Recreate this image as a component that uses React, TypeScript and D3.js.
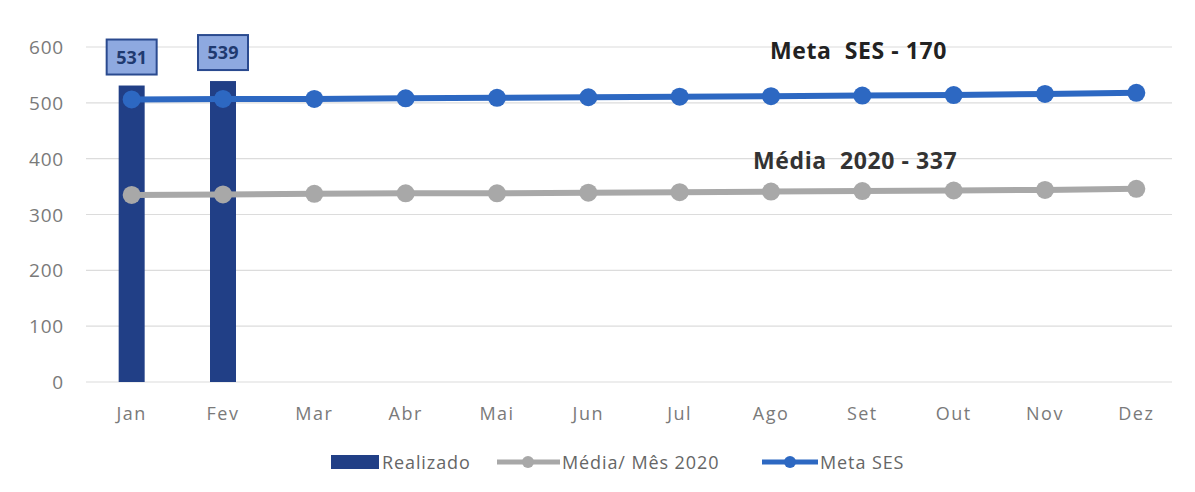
import React from "react";
import * as d3 from "d3";

const months = ["Jan","Fev","Mar","Abr","Mai","Jun","Jul","Ago","Set","Out","Nov","Dez"];
const realizado: (number|null)[] = [531, 539, null, null, null, null, null, null, null, null, null, null];
const mediaMes2020 = [335, 336, 337, 338, 338, 339, 340, 341, 342, 343, 344, 346];
const metaSES = [506, 507, 507, 508, 509, 510, 511, 512, 513, 514, 516, 518];
const yTicks = [0, 100, 200, 300, 400, 500, 600];

const W = 1195, H = 492;
const left = 86, right = 1182, top = 47, bottom = 382;

export default function App() {
  const x = d3.scaleBand<string>().domain(months).range([left, right]);
  const y = d3.scaleLinear().domain([0, 600]).range([bottom, top]);
  const cx = (m: string) => (x(m) as number) + x.bandwidth() / 2;
  const line = d3.line<number>().x((_, i) => cx(months[i])).y(d => y(d));
  const barW = 26;
  const font = "'Open Sans', Lato, sans-serif";
  const navy = "#213f86";
  const blue = "#2d68c2";
  const grey = "#a8a8a8";
  return (
    <svg width={W} height={H} style={{ position: "absolute", left: 0, top: 0, background: "#fff" }} fontFamily={font}>
      <rect x={0} y={0} width={W} height={H} fill="#fff" />
      {yTicks.map(t => (
        <g key={t}>
          <line x1={left} x2={1172} y1={y(t)} y2={y(t)} stroke="#dcdcdc" strokeWidth={1.2} />
          <text x={64} y={y(t) + 7} textAnchor="end" fontSize={19} letterSpacing={0.8} fill="#7a7a7a">{t}</text>
        </g>
      ))}
      {months.map(m => (
        <text key={m} x={cx(m)} y={420} textAnchor="middle" fontSize={18} letterSpacing={1.5} fill="#7a7a7a">{m}</text>
      ))}
      {realizado.map((v, i) => v == null ? null : (
        <rect key={i} x={cx(months[i]) - barW / 2} y={y(v)} width={barW} height={bottom - y(v)} fill={navy} />
      ))}
      <path d={line(mediaMes2020) || ""} fill="none" stroke={grey} strokeWidth={6} />
      {mediaMes2020.map((v, i) => <circle key={i} cx={cx(months[i])} cy={y(v)} r={9} fill={grey} />)}
      <path d={line(metaSES) || ""} fill="none" stroke={blue} strokeWidth={6} />
      {metaSES.map((v, i) => <circle key={i} cx={cx(months[i])} cy={y(v)} r={9} fill={blue} />)}
      {realizado.map((v, i) => v == null ? null : (
        <g key={"l" + i}>
          <rect x={cx(months[i]) - 25} y={y(v) - 46} width={50} height={35} fill="#8ea9e0" stroke="#2a4a8f" strokeWidth={2} />
          <text x={cx(months[i])} y={y(v) - 22} textAnchor="middle" fontSize={18} fontWeight="bold" fill="#1f3a70">{v}</text>
        </g>
      ))}
      <text x={770} y={59} fontSize={23} fontWeight="bold" letterSpacing={0.6} fill="#222" xmlSpace="preserve">Meta  SES - 170</text>
      <text x={753} y={169} fontSize={23} fontWeight="bold" letterSpacing={0.6} fill="#333" xmlSpace="preserve">Média  2020 - 337</text>
      <g fontSize={18} fill="#666" letterSpacing={0.9}>
        <rect x={331} y={455} width={48} height={14} fill={navy} />
        <text x={382} y={469} fill="#666">Realizado</text>
        <line x1={497} x2={560} y1={462} y2={462} stroke={grey} strokeWidth={5} />
        <circle cx={528} cy={462} r={6} fill={grey} />
        <text x={562} y={469} fill="#666">Média/ Mês 2020</text>
        <line x1={762} x2={818} y1={462} y2={462} stroke={blue} strokeWidth={5} />
        <circle cx={790} cy={462} r={6} fill={blue} />
        <text x={820} y={469} fill="#666">Meta SES</text>
      </g>
    </svg>
  );
}
